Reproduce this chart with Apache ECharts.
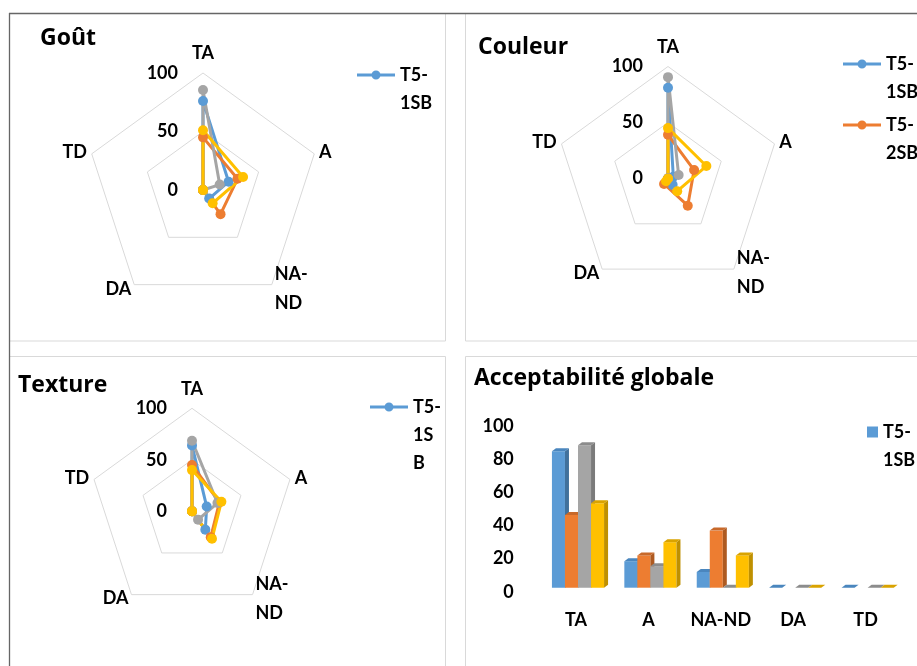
<!DOCTYPE html>
<html>
<head>
<meta charset="utf-8">
<script src="https://cdn.jsdelivr.net/npm/echarts/dist/echarts.min.js"></script>
<style>
html,body{margin:0;padding:0;background:#fff;}
#c{width:917px;height:666px;}
</style>
</head>
<body>
<div id="c"></div>
<script>
// ---------- data ----------
const categories = ['TA', 'A', 'NA-ND', 'DA', 'TD'];
const treatments = ['T5-1SB', 'T5-2SB', 'T5-3SB', 'T5-4SB'];
const radarTicks = [0, 50, 100];
const barTicks = [0, 20, 40, 60, 80, 100];

// Goût (order: TA, A, NA-ND, DA, TD)
const goutT51SB = [76, 23, 9, 0, 0];
const goutT52SB = [45, 31, 25.5, 0, 0];
const goutT53SB = [85.5, 15, 0, 0, 0];
const goutT54SB = [51, 36, 14, 0, 0];

// Couleur
const couleurT51SB = [81, 5, 7, 0, 0];
const couleurT52SB = [39, 24.5, 30, 6, 0];
const couleurT53SB = [90.5, 10, 0, 0, 0];
const couleurT54SB = [45, 36, 14, 3, 0];

// Texture
const textureT51SB = [64, 15, 22, 0, 0];
const textureT52SB = [45, 28, 31, 0, 0];
const textureT53SB = [68.5, 26, 10, 0, 0];
const textureT54SB = [40, 30, 33, 0, 0];

// Acceptabilité globale
const accT51SB = [82.5, 16, 9.5, 0, 0];
const accT52SB = [44, 19.5, 34.5, null, null];
const accT53SB = [86, 13, 0, 0, 0];
const accT54SB = [51, 27.5, 19.5, 0, 0];

// ---------- styles ----------
const FONT = 'Lato';
const TITLE_FONT = 'Open Sans';
const colors = ['#5B9BD5', '#ED7D31', '#A5A5A5', '#FFC000'];
const sideColors = ['#41719C', '#AE5A21', '#7B7B7B', '#BF9000'];
const topColors = ['#4A86BE', '#C8692A', '#8C8C8C', '#D9A300'];

const txt = {fontFamily: FONT, fontWeight: 'bold', color: '#000'};

// radar axes run counter-clockwise in ECharts; the reference runs clockwise
const radarOrder = [0, 4, 3, 2, 1];

function radarCfg(center, radius) {
  return {
    center: center,
    radius: radius,
    startAngle: 90,
    shape: 'polygon',
    splitNumber: radarTicks.length - 1,
    indicator: radarOrder.map((ci, i) => ({
      name: categories[ci], min: radarTicks[0], max: radarTicks[radarTicks.length - 1],
      axisLabel: {show: i === 0}
    })),
    nameGap: 5,
    axisName: Object.assign({}, txt, {fontSize: 18, lineHeight: 29,
      formatter: v => v.replace('-', '-\n')}),
    axisLine: {show: false},
    axisTick: {show: false},
    axisLabel: Object.assign({}, txt, {show: false, fontSize: 18, margin: 25}),
    splitLine: {lineStyle: {color: '#D9D9D9', width: 1}},
    splitArea: {show: false}
  };
}

const panels = [
  {values: [goutT51SB, goutT52SB, goutT53SB, goutT54SB]},
  {values: [couleurT51SB, couleurT52SB, couleurT53SB, couleurT54SB]},
  {values: [textureT51SB, textureT52SB, textureT53SB, textureT54SB]}
];
const barValues = [accT51SB, accT52SB, accT53SB, accT54SB];

const series = [];
panels.forEach((p, pi) => {
  p.values.forEach((vals, k) => {
    series.push({
      type: 'radar', radarIndex: pi, name: treatments[k],
      symbol: 'circle', symbolSize: 10, silent: true,
      lineStyle: {width: 3, color: colors[k]},
      itemStyle: {color: colors[k]},
      data: [{name: treatments[k], value: radarOrder.map(ci => vals[ci])}]
    });
  });
});

function makeRender(k) {
  return function (params, api) {
    const ci = api.value(0), v = api.value(1);
    if (isNaN(v)) return;
    const base = api.coord([ci, 0]);
    const top = api.coord([ci, v]);
    const band = api.size([1, 0])[0];
    const w = band * 0.18, dx = 4, dy = 3, shift = 2;
    const x0 = base[0] + shift - 2 * w + k * w;
    const x1 = x0 + w;
    const yT = top[1], yB = base[1];
    const children = [];
    if (yB - yT > 0.3) {
      children.push({type: 'rect', shape: {x: x0, y: yT, width: w, height: yB - yT}, style: {fill: colors[k]}});
      children.push({type: 'polygon', shape: {points: [[x1, yT], [x1 + dx, yT - dy], [x1 + dx, yB - dy], [x1, yB]]}, style: {fill: sideColors[k]}});
    }
    children.push({type: 'polygon', shape: {points: [[x0, yT], [x0 + dx, yT - dy], [x1 + dx, yT - dy], [x1, yT]]}, style: {fill: topColors[k]}});
    return {type: 'group', children: children};
  };
}

barValues.forEach((vals, k) => {
  series.push({
    type: 'custom', name: treatments[k], xAxisIndex: 0, yAxisIndex: 0,
    itemStyle: {color: colors[k]}, silent: true,
    encode: {x: 0, y: 1},
    data: vals.map((v, i) => [i, v]).filter(d => d[1] != null),
    renderItem: makeRender(k)
  });
});

const lineIcon = 'path://M0,3L38,3L38,6L0,6Z M14.5,4.5A4.5,4.5,0,1,1,23.5,4.5A4.5,4.5,0,1,1,14.5,4.5Z';
// legend text is centred on its icon: blank lines above keep the first line level with the icon
function legendCfg(names, left, top, lines, icon, iw, ih) {
  const pad = ' \n'.repeat(lines - 1);
  return {
    data: names, left: left, top: top, orient: 'vertical', padding: 0, itemGap: 5,
    itemWidth: iw, itemHeight: ih, icon: icon, selectedMode: false,
    itemStyle: {borderWidth: 0},
    textStyle: Object.assign({}, txt, {fontSize: 18, lineHeight: 28}),
    formatter: lines === 3
      ? (n => pad + n.replace('-', '-\n').replace(/S(B)$/, 'S\n$1'))
      : (n => pad + n.replace('-', '-\n'))
  };
}

const titleStyle = {fontFamily: TITLE_FONT, fontWeight: 'bold', color: '#000', fontSize: 23};
const option = {
  animation: false,
  color: colors,
  title: [
    {text: 'Goût', left: 40, top: 27, padding: 0, textStyle: titleStyle},
    {text: 'Couleur', left: 478, top: 36, padding: 0, textStyle: titleStyle},
    {text: 'Texture', left: 18, top: 374, padding: 0, textStyle: titleStyle},
    {text: 'Acceptabilité globale', left: 474, top: 367, padding: 0, textStyle: titleStyle}
  ],
  legend: [
    legendCfg(['T5-1SB'], 357, 33, 2, lineIcon, 38, 9),
    legendCfg(['T5-1SB'], 843, 22, 2, lineIcon, 38, 9),
    legendCfg(['T5-2SB'], 843, 83, 2, lineIcon, 38, 9),
    legendCfg(['T5-1SB'], 370, 337, 3, lineIcon, 38, 9),
    legendCfg(['T5-1SB'], 867, 390, 2, 'rect', 11, 11)
  ],
  radar: [
    radarCfg([203, 190], 117),
    radarCfg([668, 178.5], 112),
    radarCfg([192, 511.3], 103)
  ],
  grid: {left: 539.8, right: 15.2, top: 422.2, bottom: 78.3, containLabel: false},
  xAxis: {
    type: 'category', data: categories,
    axisLine: {show: false}, axisTick: {show: false}, splitLine: {show: false},
    axisLabel: Object.assign({}, txt, {fontSize: 18, margin: 23, interval: 0})
  },
  yAxis: {
    type: 'value', min: barTicks[0], max: barTicks[barTicks.length - 1], interval: barTicks[1] - barTicks[0],
    axisLine: {show: false}, axisTick: {show: false}, splitLine: {show: false},
    axisLabel: Object.assign({}, txt, {fontSize: 18, margin: 26, verticalAlign: 'top', lineHeight: 8})
  },
  graphic: [
    {type: 'rect', silent: true, shape: {x: 9.5, y: 13.5, width: 436, height: 327.5}, style: {fill: 'none', stroke: '#D9D9D9', lineWidth: 1}},
    {type: 'rect', silent: true, shape: {x: 465.5, y: 13.5, width: 470, height: 327.5}, style: {fill: 'none', stroke: '#D9D9D9', lineWidth: 1}},
    {type: 'rect', silent: true, shape: {x: 9.5, y: 356.5, width: 436, height: 330}, style: {fill: 'none', stroke: '#D9D9D9', lineWidth: 1}},
    {type: 'rect', silent: true, shape: {x: 465.5, y: 356.5, width: 470, height: 330}, style: {fill: 'none', stroke: '#D9D9D9', lineWidth: 1}},
    {type: 'line', silent: true, shape: {x1: 9, y1: 13.5, x2: 917, y2: 13.5}, style: {stroke: '#666666', lineWidth: 1.3}},
    {type: 'line', silent: true, shape: {x1: 9.5, y1: 13, x2: 9.5, y2: 666}, style: {stroke: '#666666', lineWidth: 1.3}}
  ],
  series: series
};

const chart = echarts.init(document.getElementById('c'), null, {renderer: 'canvas'});
chart.setOption(option);
</script>
</body>
</html>
